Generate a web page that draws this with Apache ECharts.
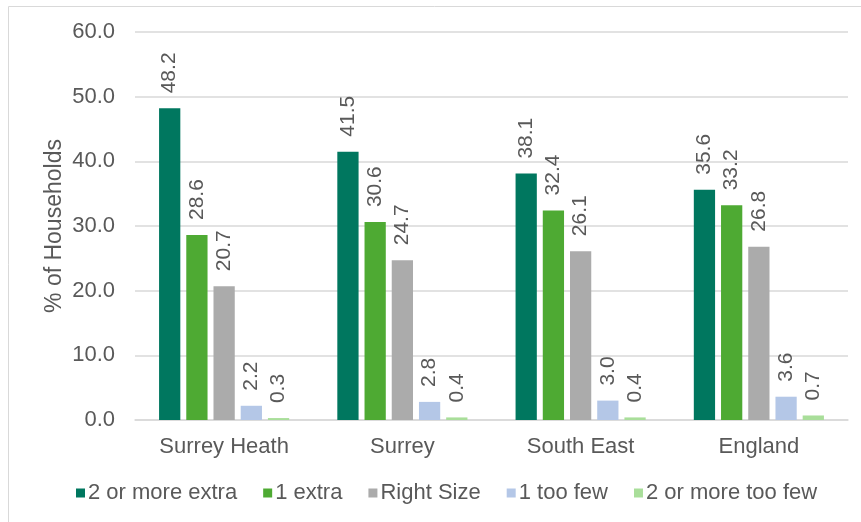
<!DOCTYPE html>
<html>
<head>
<meta charset="utf-8">
<script src="https://cdn.jsdelivr.net/npm/echarts@6/dist/echarts.min.js"></script>
<style>html,body{margin:0;padding:0;background:#fff;}#c{width:861px;height:522px;}</style>
</head>
<body>
<div id="c"></div>
<script>
const categories = ['Surrey Heath', 'Surrey', 'South East', 'England'];
const seriesNames = ['2 or more extra', '1 extra', 'Right Size', '1 too few', '2 or more too few'];
const twoOrMoreExtra = [48.2, 41.5, 38.1, 35.6];
const oneExtra = [28.6, 30.6, 32.4, 33.2];
const rightSize = [20.7, 24.7, 26.1, 26.8];
const oneTooFew = [2.2, 2.8, 3.0, 3.6];
const twoOrMoreTooFew = [0.3, 0.4, 0.4, 0.7];
const yTicks = [0, 10, 20, 30, 40, 50, 60];

const colors = ['#00775F', '#4EAA33', '#ABABAB', '#B4C7E7', '#A9DE9A'];
const values = [twoOrMoreExtra, oneExtra, rightSize, oneTooFew, twoOrMoreTooFew];
const font = 'Liberation Sans, Arial, sans-serif';
const textColor = '#595959';

const chart = echarts.init(document.getElementById('c'), null, {renderer: 'canvas'});
chart.setOption({
  animation: false,
  color: colors,
  grid: {left: 135, right: 13, top: 32, bottom: 102},
  legend: {
    left: 71, top: 477,
    icon: 'rect', itemWidth: 9, itemHeight: 9, itemGap: 26,
    textStyle: {color: textColor, fontSize: 22, fontFamily: font, padding: [0, 0, 0, -2]},
    data: seriesNames
  },
  xAxis: {
    type: 'category', data: categories,
    axisLine: {lineStyle: {color: '#D9D9D9', width: 1.5}},
    axisTick: {show: false},
    axisLabel: {color: textColor, fontSize: 22, fontFamily: font, margin: 16}
  },
  yAxis: {
    type: 'value', min: yTicks[0], max: yTicks[yTicks.length - 1], interval: 10,
    name: '% of Households', nameLocation: 'middle', nameGap: 69, nameMoveOverlap: false,
    nameTextStyle: {color: textColor, fontSize: 23, fontFamily: font},
    axisLine: {show: false}, axisTick: {show: false},
    axisLabel: {color: textColor, fontSize: 22, fontFamily: font, margin: 20,
      formatter: v => v.toFixed(1)},
    splitLine: {lineStyle: {color: '#D9D9D9', width: 1.5}}
  },
  graphic: [
    {type: 'line', shape: {x1: 8.5, y1: 6.5, x2: 8.5, y2: 522}, style: {stroke: '#D9D9D9', lineWidth: 1}},
    {type: 'line', shape: {x1: 8.5, y1: 6.5, x2: 861, y2: 6.5}, style: {stroke: '#D9D9D9', lineWidth: 1}}
  ],
  series: seriesNames.map((name, i) => ({
    name: name, type: 'bar', data: values[i],
    barGap: '28%', barCategoryGap: '27%',
    itemStyle: {color: colors[i]},
    label: {
      show: true, position: 'top', rotate: 90, align: 'left', verticalAlign: 'middle',
      distance: 15, color: textColor, fontSize: 21, fontFamily: font,
      formatter: p => p.value.toFixed(1)
    }
  }))
});
</script>
</body>
</html>
